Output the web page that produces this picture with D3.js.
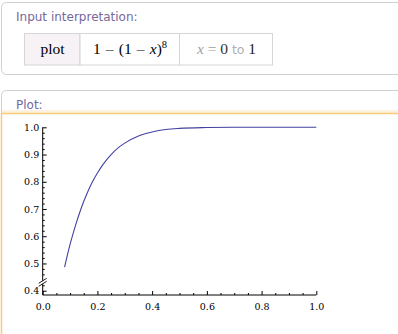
<!DOCTYPE html>
<html>
<head>
<meta charset="utf-8">
<script src="https://cdn.jsdelivr.net/npm/d3@7"></script>
<style>
  body { margin: 0; background: #fff; }
  svg { display: block; }
  .tick text { font-family: "DejaVu Serif", serif; font-size: 9.5px; fill: #000; }
</style>
</head>
<body>
<script>
var curveX = [0.08, 0.10, 0.12, 0.14, 0.16, 0.18, 0.20, 0.22, 0.25, 0.28, 0.30, 0.35, 0.40, 0.45, 0.50, 0.60, 0.70, 0.80, 1.00];
var curveY = [0.487, 0.570, 0.640, 0.701, 0.752, 0.796, 0.832, 0.863, 0.900, 0.928, 0.942, 0.968, 0.983, 0.992, 0.996, 0.999, 1.000, 1.000, 1.000];

var xTicks = [0, 0.2, 0.4, 0.6, 0.8, 1.0];
var xMinor = [0.05, 0.1, 0.15, 0.25, 0.3, 0.35, 0.45, 0.5, 0.55, 0.65, 0.7, 0.75, 0.85, 0.9, 0.95];
var yTicks = [0.4, 0.5, 0.6, 0.7, 0.8, 0.9, 1.0];
var yMinor = [0.42, 0.46, 0.48, 0.52, 0.54, 0.56, 0.58, 0.62, 0.64, 0.66, 0.68, 0.72, 0.74, 0.76, 0.78,
              0.82, 0.84, 0.86, 0.88, 0.92, 0.94, 0.96, 0.98];

var width = 398, height = 334;
var svg = d3.select("body").append("svg").attr("width", width).attr("height", height);

// ---- panel 1: input interpretation
svg.append("rect").attr("x", 1.5).attr("y", 2.5).attr("width", 420).attr("height", 72)
    .attr("rx", 5).attr("fill", "#fff").attr("stroke", "#cfcfcf");
svg.append("text").attr("x", 16).attr("y", 20.5)
    .style("font-family", "DejaVu Sans").style("font-size", "12px")
    .attr("fill", "#76689c").text("Input interpretation:");

var cells = [{ x: 24.5, w: 55.5, bg: "#f6f2f6" }, { x: 80, w: 99.5, bg: "#fff" }, { x: 179.5, w: 93, bg: "#fff" }];
svg.selectAll("rect.cell").data(cells).enter().append("rect").attr("class", "cell")
    .attr("x", d => d.x).attr("y", 33.5).attr("width", d => d.w).attr("height", 31.5)
    .attr("fill", d => d.bg).attr("stroke", "#d6d6d6");

var serif = "Liberation Serif";
svg.append("text").attr("x", 52.5).attr("y", 53.5).attr("text-anchor", "middle")
    .style("font-family", serif).style("font-size", "15.5px").text("plot");

var sp = "\u2004";
var f = svg.append("text").attr("x", 130).attr("y", 53.5).attr("text-anchor", "middle")
    .style("font-family", serif).style("font-size", "15.5px");
f.append("tspan").text("1" + sp + "\u2013" + sp + "(1" + sp + "\u2013" + sp);
f.append("tspan").style("font-style", "italic").text("x");
f.append("tspan").text(")");
f.append("tspan").attr("dy", -6).style("font-size", "10.5px").text("8");

var r = svg.append("text").attr("x", 226.5).attr("y", 53.5).attr("text-anchor", "middle")
    .style("font-family", serif).style("font-size", "15.5px");
r.append("tspan").style("font-style", "italic").attr("fill", "#a0a0a0").text("x");
r.append("tspan").attr("fill", "#a0a0a0").text(" = ");
r.append("tspan").attr("fill", "#333").text("0 ");
r.append("tspan").attr("fill", "#b0b0b0").style("font-family", "DejaVu Sans").style("font-size", "12.5px").text("to");
r.append("tspan").attr("fill", "#222").text(" 1");

// ---- panel 2: plot
svg.append("rect").attr("x", 1.5).attr("y", 90.5).attr("width", 420).attr("height", 300)
    .attr("rx", 5).attr("fill", "#fff").attr("stroke", "#cfcfcf");
svg.append("rect").attr("x", 2).attr("y", 110).attr("width", 420).attr("height", 3).attr("fill", "#fdf1e0");
svg.append("line").attr("x1", 1.5).attr("x2", 420).attr("y1", 113.5).attr("y2", 113.5)
    .attr("stroke", "#f9cb78").attr("stroke-width", 1.5);
svg.append("line").attr("x1", 1.5).attr("x2", 1.5).attr("y1", 113).attr("y2", 334)
    .attr("stroke", "#f9cb78").attr("stroke-width", 1.5);
svg.append("text").attr("x", 16).attr("y", 108.5)
    .style("font-family", "DejaVu Sans").style("font-size", "12px")
    .attr("fill", "#76689c").text("Plot:");

var xScale = d3.scaleLinear().domain([0, 1]).range([42.7, 316.3]);
var yScale = d3.scaleLinear().domain([0.4, 1]).range([290.7, 127.3]);
var axisY = 295;

var chart = svg.append("g");

// x axis
chart.append("g").attr("transform", "translate(0," + axisY + ")")
    .call(d3.axisBottom(xScale).tickValues(xMinor).tickSize(-2).tickFormat(""))
    .call(g => g.select(".domain").remove());
chart.append("g").attr("transform", "translate(0," + axisY + ")")
    .call(d3.axisBottom(xScale).tickValues(xTicks).tickSize(-4).tickPadding(8).tickFormat(d3.format(".1f")))
    .call(g => g.select(".domain").remove());

// y axis
chart.append("g").attr("transform", "translate(" + xScale(0) + ",0)")
    .call(d3.axisLeft(yScale).tickValues(yMinor).tickSize(-2).tickFormat(""))
    .call(g => g.select(".domain").remove());
chart.append("g").attr("transform", "translate(" + xScale(0) + ",0)")
    .call(d3.axisLeft(yScale).tickValues(yTicks).tickSize(-4).tickPadding(3.5).tickFormat(d3.format(".1f")))
    .call(g => g.select(".domain").remove());

chart.selectAll(".tick line").attr("stroke", "#000");

// axis lines
chart.append("line").attr("x1", xScale(0)).attr("x2", xScale(1)).attr("y1", axisY).attr("y2", axisY)
    .attr("stroke", "#000");
chart.append("line").attr("x1", xScale(0)).attr("x2", xScale(0)).attr("y1", axisY).attr("y2", yScale(1))
    .attr("stroke", "#000");

// axis break
var yb = yScale(0.44) + 2;
chart.append("path")
    .attr("d", "M" + (xScale(0) - 4) + "," + (yb + 1.5) + "L" + (xScale(0) + 4) + "," + (yb - 3.5) +
               "L" + (xScale(0) + 4) + "," + (yb - 0.5) + "L" + (xScale(0) - 4) + "," + (yb + 4.5) + "Z")
    .attr("fill", "#fff");
[0, 3].forEach(function(o) {
    chart.append("line")
        .attr("x1", xScale(0) - 4).attr("y1", yb + 1.5 + o)
        .attr("x2", xScale(0) + 4).attr("y2", yb - 3.5 + o)
        .attr("stroke", "#000").attr("stroke-width", 0.9);
});

// curve
var pts = curveX.map((x, i) => [x, curveY[i]]);
var line = d3.line().x(d => xScale(d[0])).y(d => yScale(d[1])).curve(d3.curveMonotoneX);
chart.append("path").datum(pts).attr("d", line)
    .attr("fill", "none").attr("stroke", "#4242a0").attr("stroke-width", 1.1);
</script>
</body>
</html>
